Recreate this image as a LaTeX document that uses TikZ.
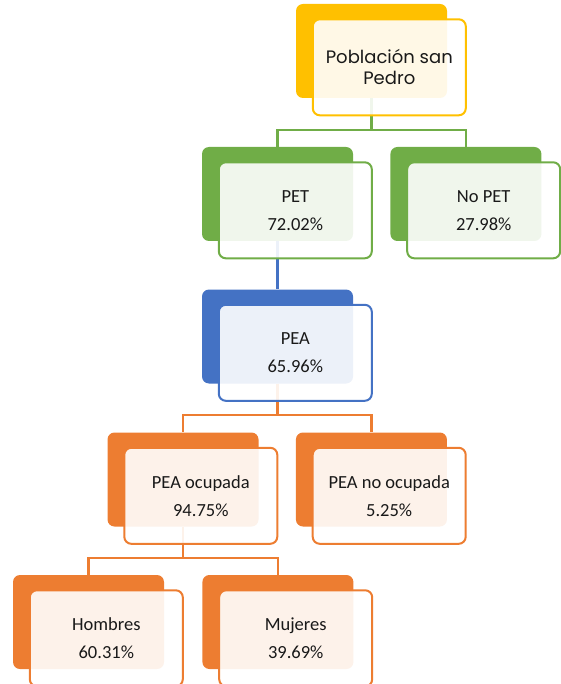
\documentclass[tikz,border=0pt]{standalone}
\usepackage{fontspec}
\setmainfont{Carlito}
\newfontfamily\titlefont{Poppins}
\usetikzlibrary{positioning}

\definecolor{gold}{HTML}{FFC000}
\definecolor{leaf}{HTML}{70AD47}
\definecolor{sky}{HTML}{4472C4}
\definecolor{rust}{HTML}{ED7D31}

\begin{document}
\begin{tikzpicture}[x=1pt, y=-1pt, node distance=37pt,
	back/.style={fill=#1, rounded corners=7pt, minimum width=151pt, minimum height=94pt, inner sep=0pt},
	front/.style={draw=#1, line width=2pt, fill=white, fill opacity=0.9, text opacity=1, rounded corners=7pt,
		minimum width=153pt, minimum height=96pt, align=center, text=black!90,
		font=\fontsize{18.5}{28}\selectfont},
	link/.style={draw=#1, line width=2.2pt}]
	\useasboundingbox (0,0) rectangle (560,684);
	% back boxes
	\node[back=gold] (b1) at (371.5,51) {};
	\node[back=leaf] (b2) at (277.5,194) {};
	\node[back=leaf, right=of b2] (b3) {};
	\node[back=sky] (b4) at (277.5,336.5) {};
	\node[back=rust] (b5) at (183,479.5) {};
	\node[back=rust, right=of b5] (b6) {};
	\node[back=rust] (b7) at (88.5,622) {};
	\node[back=rust, right=38pt of b7] (b8) {};
	% connectors
	\draw[link=leaf] (b1.south) |- ([yshift=17pt]b2.north) -- (b2.north);
	\draw[link=leaf] (b1.south) |- ([yshift=17pt]b3.north) -- (b3.north);
	\draw[link=sky] (b2.south) -- (b4.north);
	\draw[link=rust] (b4.south) |- ([yshift=17pt]b5.north) -- (b5.north);
	\draw[link=rust] (b4.south) |- ([yshift=17pt]b6.north) -- (b6.north);
	\draw[link=rust] (b5.south) |- ([yshift=17pt]b7.north) -- (b7.north);
	\draw[link=rust] (b5.south) |- ([yshift=17pt]b8.north) -- (b8.north);
	% front boxes
	\node[front=gold, below right=14.5pt and 16pt of b1.north west, font=\titlefont\fontsize{18}{21}\selectfont] (f1) {Población san\\Pedro};
	\node[front=leaf, below right=14.5pt and 16pt of b2.north west] (f2) {PET\\72.02\%};
	\node[front=leaf, below right=14.5pt and 16pt of b3.north west] (f3) {No PET\\27.98\%};
	\node[front=sky, below right=14.5pt and 16pt of b4.north west] (f4) {PEA\\65.96\%};
	\node[front=rust, below right=14.5pt and 16pt of b5.north west] (f5) {PEA ocupada\\94.75\%};
	\node[front=rust, below right=14.5pt and 16pt of b6.north west] (f6) {PEA no ocupada\\5.25\%};
	\node[front=rust, below right=14.5pt and 16pt of b7.north west] (f7) {Hombres\\60.31\%};
	\node[front=rust, below right=14.5pt and 16pt of b8.north west] (f8) {Mujeres\\39.69\%};
\end{tikzpicture}
\end{document}
